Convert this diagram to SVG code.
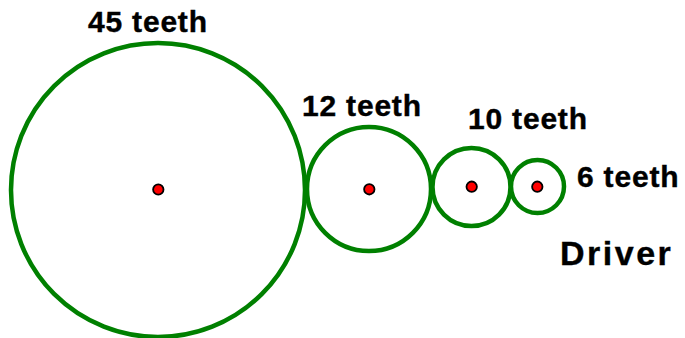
<svg xmlns="http://www.w3.org/2000/svg" width="685" height="338" viewBox="0 0 685 338">
<style>
.gear{fill:none;stroke:#008000;stroke-width:4.5}
.hub{fill:#ff0000;stroke:#000;stroke-width:1.8}
.lbl{font-family:"Liberation Sans",Arial,sans-serif;font-weight:bold;font-size:30px;letter-spacing:0.8px;fill:#000;stroke:#000;stroke-width:0.4}
.drv{font-size:34px;letter-spacing:2.5px}
</style>
<rect width="685" height="338" fill="#fff"/>
<g id="gear45">
<circle class="gear" cx="158" cy="190" r="147"/>
<circle class="hub" cx="158.3" cy="189.5" r="5.2"/>
<text class="lbl" x="88" y="32">45 teeth</text>
</g>
<g id="gear12">
<circle class="gear" cx="369" cy="189" r="62"/>
<circle class="hub" cx="369.3" cy="189.3" r="5.2"/>
<text class="lbl" x="302" y="115.5">12 teeth</text>
</g>
<g id="gear10">
<circle class="gear" cx="471.5" cy="187" r="39"/>
<circle class="hub" cx="471.7" cy="186.7" r="5.2"/>
<text class="lbl" x="468" y="129">10 teeth</text>
</g>
<g id="gear6">
<circle class="gear" cx="537.5" cy="186.5" r="26.5"/>
<circle class="hub" cx="537.3" cy="186.7" r="5.2"/>
<text class="lbl" x="577" y="186.5">6 teeth</text>
<text class="lbl drv" x="560" y="265">Driver</text>
</g>
<g id="connectors"/>
</svg>
